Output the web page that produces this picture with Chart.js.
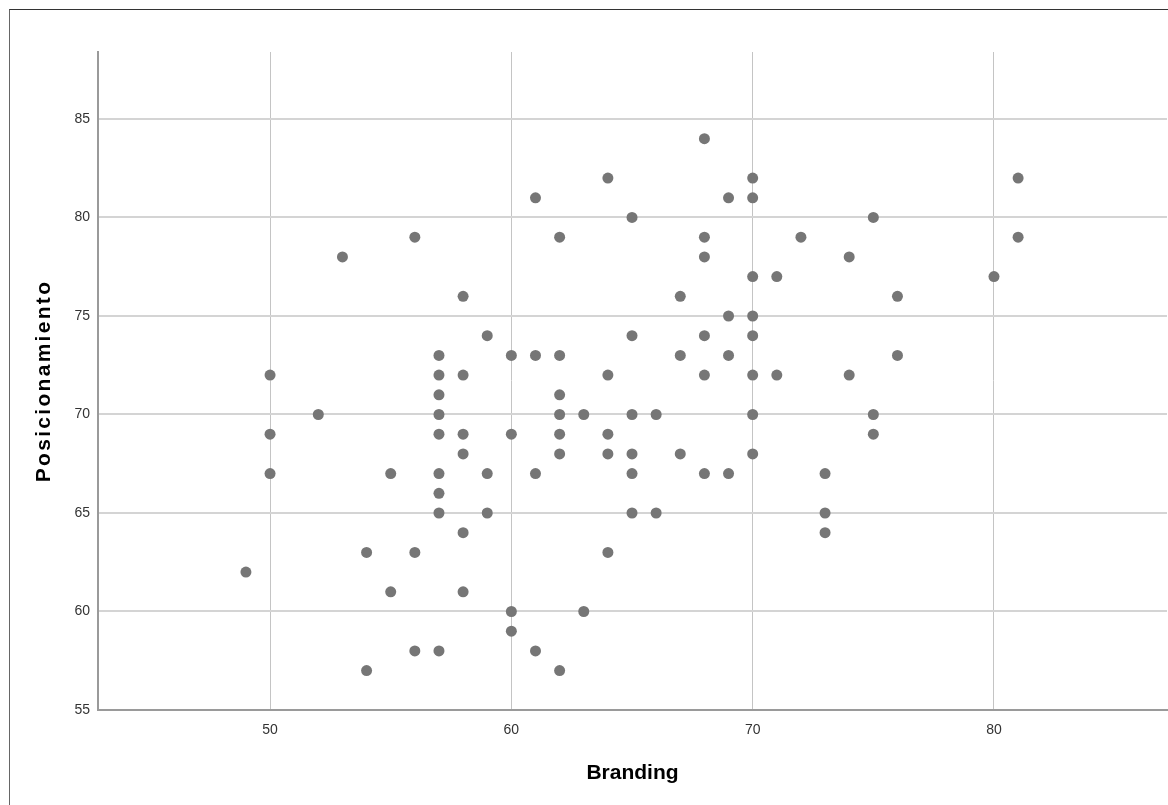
<!DOCTYPE html>
<html>
<head>
<meta charset="utf-8">
<script src="https://cdn.jsdelivr.net/npm/chart.js@4"></script>
<style>
  body { margin: 0; background: #fff; }
  #wrap { position: relative; width: 1168px; height: 805px; }
  #marco { position: absolute; left: 9px; top: 9px; right: 0; bottom: -5px;
           border-top: 1px solid #333; border-left: 1px solid #666; pointer-events: none; }
</style>
</head>
<body>
<div id="wrap">
  <canvas id="dispersion" width="1168" height="805"></canvas>
  <div id="marco"></div>
</div>
<script>
// Branding (x) vs Posicionamiento (y), un par por caso
var branding = [
  49,
  50, 50, 50,
  52,
  53,
  54, 54,
  55, 55,
  56, 56, 56,
  57, 57, 57, 57, 57, 57, 57, 57, 57,
  58, 58, 58, 58, 58, 58,
  59, 59, 59,
  60, 60, 60, 60,
  61, 61, 61, 61,
  62, 62, 62, 62, 62, 62, 62,
  63, 63,
  64, 64, 64, 64, 64,
  65, 65, 65, 65, 65, 65,
  66, 66,
  67, 67, 67,
  68, 68, 68, 68, 68, 68,
  69, 69, 69, 69,
  70, 70, 70, 70, 70, 70, 70, 70,
  71, 71,
  72,
  73, 73, 73,
  74, 74,
  75, 75, 75,
  76, 76,
  80,
  81, 81
];
var posicionamiento = [
  62,
  72, 69, 67,
  70,
  78,
  63, 57,
  67, 61,
  79, 63, 58,
  73, 72, 71, 70, 69, 67, 66, 65, 58,
  76, 72, 69, 68, 64, 61,
  74, 67, 65,
  73, 69, 60, 59,
  81, 73, 67, 58,
  79, 73, 71, 70, 69, 68, 57,
  70, 60,
  82, 72, 69, 68, 63,
  80, 74, 70, 68, 67, 65,
  70, 65,
  76, 73, 68,
  84, 79, 78, 74, 72, 67,
  81, 75, 73, 67,
  82, 81, 77, 75, 74, 72, 70, 68,
  77, 72,
  79,
  67, 65, 64,
  78, 72,
  80, 70, 69,
  76, 73,
  77,
  82, 79
];
var ticksX = [50, 60, 70, 80];
var ticksY = [55, 60, 65, 70, 75, 80, 85];

var puntos = branding.map(function(b, i) {
    return { x: b, y: posicionamiento[i] };
});

var fuenteTicks = { family: 'Liberation Sans', size: 14 };
var fuenteTitulo = { family: 'Liberation Sans', size: 21, weight: 'bold' };

var ctx = document.getElementById('dispersion').getContext('2d');
var myChart = new Chart(ctx, {
    type: 'scatter',
    data: {
        datasets: [{
            label: 'Posicionamiento',
            data: puntos,
            backgroundColor: '#767676',
            borderWidth: 0,
            pointRadius: 5.5,
            pointHoverRadius: 5.5
        }]
    },
    options: {
        responsive: false,
        animation: false,
        layout: { autoPadding: false, padding: { left: 0, top: 52, right: 1, bottom: 0 } },
        plugins: {
            legend: { display: false },
            tooltip: { enabled: false }
        },
        scales: {
            x: {
                type: 'linear',
                min: 42.87,
                max: 87.17,
                afterBuildTicks: function(scale) {
                    scale.ticks = ticksX.map(function(v) { return { value: v }; });
                },
                afterFit: function(scale) {
                    scale.height = 95;
                    // sin relleno extra por las etiquetas de los extremos
                    scale.paddingLeft = 0;
                    scale.paddingRight = 0;
                },
                grid: { color: '#c4c4c4', lineWidth: 1, drawTicks: false },
                border: { color: '#9a9a9a', width: 2 },
                ticks: { color: '#333', font: fuenteTicks, padding: 12, maxRotation: 0 },
                title: {
                    display: true,
                    text: 'Branding',
                    color: '#000',
                    font: fuenteTitulo,
                    padding: { top: 19, bottom: 19 }
                }
            },
            y: {
                type: 'linear',
                min: 55,
                max: 88.4,
                afterBuildTicks: function(scale) {
                    scale.ticks = ticksY.map(function(v) { return { value: v }; });
                },
                afterFit: function(scale) {
                    scale.width = 98;
                    // el título vertical va más espaciado
                    if (!scale._espaciado) {
                        var dibujar = scale.drawTitle;
                        scale.drawTitle = function() {
                            this.ctx.save();
                            this.ctx.letterSpacing = '2.3px';
                            dibujar.apply(this, arguments);
                            this.ctx.restore();
                        };
                        scale._espaciado = true;
                    }
                },
                grid: { color: '#d4d4d4', lineWidth: 2, drawTicks: false },
                border: { color: '#9a9a9a', width: 2 },
                ticks: { color: '#333', font: fuenteTicks, padding: 8 },
                title: {
                    display: true,
                    text: 'Posicionamiento',
                    color: '#000',
                    font: fuenteTitulo,
                    padding: { top: 32, bottom: 32 }
                }
            }
        }
    }
});
</script>
</body>
</html>
